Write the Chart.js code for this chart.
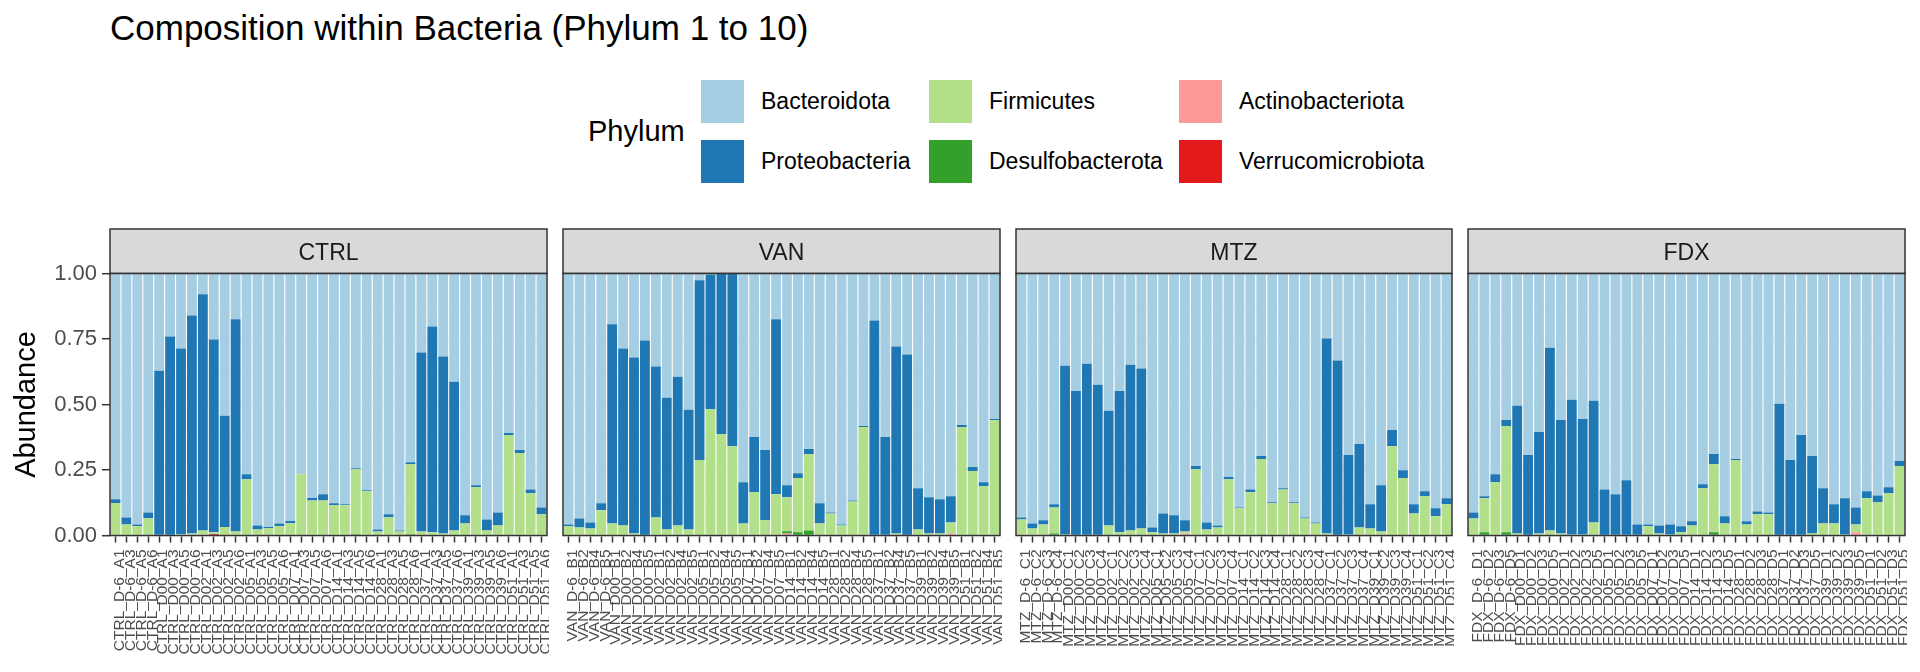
<!DOCTYPE html>
<html><head><meta charset="utf-8">
<script src="https://cdn.jsdelivr.net/npm/chart.js@4.4.1/dist/chart.umd.min.js"></script>
<style>
html,body{margin:0;padding:0;background:#fff;}
#wrap{position:relative;width:1920px;height:672px;overflow:hidden;font-family:"Liberation Sans",Arial,sans-serif;}
canvas{position:absolute;}
.t{position:absolute;white-space:nowrap;line-height:1;}
.key{position:absolute;width:43px;height:43px;}
</style></head><body>
<div id="wrap">
<div class="t" style="left:110px;top:10.4px;font-size:35px;color:#000">Composition within Bacteria (Phylum 1 to 10)</div>
<div class="t" style="left:588px;top:117px;font-size:29px;color:#000">Phylum</div>
<div id="legend"></div>
<canvas id="c0"></canvas><canvas id="c1"></canvas><canvas id="c2"></canvas><canvas id="c3"></canvas>
</div>
<script>
// ---- data ----
const groups = ["CTRL", "VAN", "MTZ", "FDX"];
const days = ["D-6", "D00", "D02", "D05", "D07", "D14", "D28", "D37", "D39", "D51"];
const miceCTRL = ["A1", "A3", "A5", "A6"];
const miceVAN = ["B1", "B2", "B4", "B5"];
const miceMTZ = ["C1", "C2", "C3", "C4"];
const miceFDX = ["D1", "D2", "D3", "D5"];
const phyla = ["Bacteroidota", "Proteobacteria", "Firmicutes", "Desulfobacterota", "Actinobacteriota", "Verrucomicrobiota"];
const phylaColors = ["#A6CEE3", "#1F78B4", "#B2DF8A", "#33A02C", "#FB9A99", "#E31A1C"];
const yTicks = [0, 0.25, 0.5, 0.75, 1];

const ctrlBacteroidota = [.862,.931,.958,.912,.371,.240,.286,.160,.079,.252, .543,.175,.766,.962,.968,.954,.945,.766,.857,.843, .877,.881,.743,.827,.977,.919,.981,.720,.302,.202, .317,.413,.923,.808,.939,.912,.609,.674,.824,.893];
const ctrlProteobacteria = [.014,.027,.007,.022,.629,.760,.709,.832,.902,.736, .425,.810,.019,.015,.004,.010,.008,0,.009,.023, .008,.004,.004,.004,.008,.011,.004,.008,.683,.786, .675,.568,.031,.008,.042,.050,.007,.011,.015,.026];
const ctrlFirmicutes = [.124,.042,.035,.066,0,0,.005,.008,.015,.006, .032,.015,.215,.023,.028,.036,.047,.234,.134,.134, .115,.115,.248,.169,.015,.070,.015,.267,.015,.012, .008,.019,.046,.184,.019,.038,.384,.315,.161,.081];
const ctrlDesulfobacterota = [0,0,0,0,0,0,0,0,0,0, 0,0,0,0,0,0,0,0,0,0, 0,0,.005,0,0,0,0,.005,0,0, 0,0,0,0,0,0,0,0,0,0];
const ctrlActinobacteriota = [0,0,0,0,0,0,0,0,.004,0, 0,0,0,0,0,0,0,0,0,0, 0,0,0,0,0,0,0,0,0,0, 0,0,0,0,0,0,0,0,0,0];
const ctrlVerrucomicrobiota = [0,0,0,0,0,0,0,0,0,.006, 0,0,0,0,0,0,0,0,0,0, 0,0,0,0,0,0,0,0,0,0, 0,0,0,0,0,0,0,0,0,0];

const vanBacteroidota = [.958,.935,.950,.877,.194,.286,.321,.256,.355,.474, .394,.520,.026,.005,0,0,.797,.624,.674,.175, .808,.762,.670,.877,.912,.958,.866,.582,.179,.624, .279,.309,.820,.854,.862,.850,.578,.739,.797,.555];
const vanProteobacteria = [.007,.034,.023,.027,.760,.676,.671,.744,.576,.503, .568,.457,.686,.512,.613,.659,.157,.211,.268,.668, .046,.019,.019,.077,.004,.004,.004,.004,.821,.376, .713,.691,.157,.138,.130,.100,.008,.015,.015,.004];
const vanFirmicutes = [.035,.031,.027,.096,.046,.038,.008,0,.069,.023, .038,.023,.288,.483,.387,.341,.046,.165,.058,.157, .130,.207,.292,.046,.084,.038,.130,.414,0,0, .008,0,.023,.008,.008,.042,.414,.242,.188,.441];
const vanDesulfobacterota = [0,0,0,0,0,0,0,0,0,0, 0,0,0,0,0,0,0,0,0,0, .008,.012,.019,0,0,0,0,0,0,0, 0,0,0,0,0,0,0,.004,0,0];
const vanActinobacteriota = [0,0,0,0,0,0,0,0,0,0, 0,0,0,0,0,0,0,0,0,0, .008,0,0,0,0,0,0,0,0,0, 0,0,0,0,0,.008,0,0,0,0];
const vanVerrucomicrobiota = [0,0,0,0,0,0,0,0,0,0, 0,0,0,0,0,0,0,0,0,0, 0,0,0,0,0,0,0,0,0,0, 0,0,0,0,0,0,0,0,0,0];

const mtzBacteroidota = [.931,.954,.942,.881,.352,.448,.344,.425,.524,.448, .348,.363,.969,.916,.923,.942,.735,.950,.962,.777, .893,.824,.697,.873,.820,.873,.931,.950,.248,.332, .693,.651,.881,.808,.597,.751,.881,.831,.896,.858];
const mtzProteobacteria = [.008,.019,.016,.012,.644,.552,.656,.575,.438,.540, .633,.610,.019,.076,.069,.043,.012,.027,.007,.008, .003,.011,.011,.004,.004,.004,.004,.004,.744,.668, .303,.318,.092,.177,.062,.030,.035,.019,.031,.023];
const mtzFirmicutes = [.061,.027,.042,.099,.004,0,0,0,.038,.012, .019,.027,.012,.008,.008,.007,.253,.023,.031,.215, .104,.165,.288,.123,.176,.119,.065,.046,.008,0, .004,.031,.027,.011,.341,.219,.084,.150,.073,.119];
const mtzDesulfobacterota = [0,0,0,.008,0,0,0,0,0,0, 0,0,0,0,0,0,0,0,0,0, 0,0,.004,0,0,.004,0,0,0,0, 0,0,0,0,0,0,0,0,0,0];
const mtzActinobacteriota = [0,0,0,0,0,0,0,0,0,0, 0,0,0,0,0,.008,0,0,0,0, 0,0,0,0,0,0,0,0,0,0, 0,0,0,.004,0,0,0,0,0,0];
const mtzVerrucomicrobiota = [0,0,0,0,0,0,0,0,0,0, 0,0,0,0,0,0,0,0,0,0, 0,0,0,0,0,0,0,0,0,0, 0,0,0,0,0,0,0,0,0,0];

const fdxBacteroidota = [.912,.850,.766,.559,.505,.693,.605,.283,.559,.482, .555,.486,.824,.843,.789,.958,.958,.962,.958,.965, .946,.804,.689,.927,.708,.946,.908,.912,.497,.712, .616,.697,.820,.881,.858,.893,.831,.847,.816,.716];
const fdxProteobacteria = [.023,.008,.031,.023,.487,.307,.387,.698,.433,.514, .441,.464,.176,.157,.211,.042,.007,.030,.038,.023, .016,.016,.039,.027,.004,.012,.011,.007,.503,.288, .384,.295,.134,.073,.138,.065,.027,.026,.023,.019];
const fdxFirmicutes = [.065,.130,.203,.406,.008,0,.008,.019,.008,.004, .004,.050,0,0,0,0,.031,.008,.004,.012, .038,.180,.260,.046,.284,.042,.081,.081,0,0, 0,.008,.046,.046,.004,.030,.142,.127,.161,.265];
const fdxDesulfobacterota = [0,.012,0,.012,0,0,0,0,0,0, 0,0,0,0,0,0,.004,0,0,0, 0,0,.012,0,.004,0,0,0,0,0, 0,0,0,0,0,0,0,0,0,0];
const fdxActinobacteriota = [0,0,0,0,0,0,0,0,0,0, 0,0,0,0,0,0,0,0,0,0, 0,0,0,0,0,0,0,0,0,0, 0,0,0,0,0,.012,0,0,0,0];
const fdxVerrucomicrobiota = [0,0,0,0,0,0,0,0,0,0, 0,0,0,0,0,0,0,0,0,0, 0,0,0,0,0,0,0,0,0,0, 0,0,0,0,0,0,0,0,0,0];

// ---- build ----
Chart.defaults.font.family = '"Liberation Sans", Arial, sans-serif';
const FONT = '"Liberation Sans", Arial, sans-serif';

const legendCols = [701, 929, 1179], legendRows = [80, 140];
const leg = document.getElementById('legend');
phyla.forEach((p, i) => {
  const cx = legendCols[Math.floor(i / 2)], ry = legendRows[i % 2];
  const k = document.createElement('div'); k.className = 'key';
  k.style.left = cx + 'px'; k.style.top = ry + 'px'; k.style.background = phylaColors[i];
  leg.appendChild(k);
  const t = document.createElement('div'); t.className = 't'; t.textContent = p;
  t.style.left = (cx + 60) + 'px'; t.style.top = (ry + 10) + 'px'; t.style.fontSize = '23px'; t.style.color = '#000';
  leg.appendChild(t);
});

const panelPlugin = {
  id: 'panel',
  beforeDraw(chart, args, opts) {
    const { ctx, chartArea: { left, right, top } } = chart;
    ctx.save();
    ctx.fillStyle = '#D9D9D9'; ctx.fillRect(left, 1, right - left, top - 1);
    ctx.strokeStyle = '#333333'; ctx.lineWidth = 1.5; ctx.strokeRect(left, 1, right - left, top - 1);
    ctx.fillStyle = '#1A1A1A'; ctx.font = '23px ' + FONT; ctx.textAlign = 'center'; ctx.textBaseline = 'alphabetic';
    ctx.fillText(opts.text, (left + right) / 2, top - 14);
    ctx.restore();
  },
  afterDatasetsDraw(chart) {
    const { ctx, chartArea: { left, right, top, bottom } } = chart;
    ctx.save(); ctx.strokeStyle = '#333333'; ctx.lineWidth = 1.5;
    ctx.strokeRect(left, top, right - left, bottom - top); ctx.restore();
  }
};

const isMajor = v => Math.abs(v * 4 - Math.round(v * 4)) < 1e-9;

function makeChart(idx, left, width, padL, group, mice, series) {
  const cv = document.getElementById('c' + idx);
  cv.width = width; cv.height = 444;
  cv.style.left = left + 'px'; cv.style.top = '228px';
  cv.style.width = width + 'px'; cv.style.height = '444px';
  const labels = [];
  days.forEach(d => mice.forEach(m => labels.push(group + '_' + d + '_' + m)));
  const order = [5, 4, 3, 2, 1, 0];
  const datasets = order.map(i => ({
    label: phyla[i], data: series[i], backgroundColor: phylaColors[i],
    borderWidth: 0, barPercentage: 0.9, categoryPercentage: 1.0
  }));
  const first = idx === 0;
  return new Chart(cv, {
    type: 'bar',
    data: { labels, datasets },
    plugins: [panelPlugin],
    options: {
      responsive: false, animation: false, devicePixelRatio: 1,
      layout: { padding: { top: 45.5, right: 2, left: padL, bottom: 0 } },
      plugins: { legend: { display: false }, tooltip: { enabled: false }, panel: { text: group } },
      scales: {
        x: {
          stacked: true,
          grid: { display: true, drawOnChartArea: false, drawTicks: true, tickLength: 7, tickColor: '#333333', tickWidth: 1.5, offset: false },
          border: { display: false },
          ticks: { autoSkip: false, minRotation: 90, maxRotation: 90, padding: 7, labelOffset: 4,
                   color: '#4D4D4D', font: { size: 15.5, family: FONT } },
          afterFit: s => { s.height = 136.5; s.paddingLeft = 0; s.paddingRight = 0; }
        },
        y: {
          stacked: true, min: 0, max: 1,
          border: { display: false },
          grid: {
            color: '#EBEBEB', lineWidth: c => isMajor(c.tick.value) ? 1.4 : 0.7,
            drawTicks: first, tickLength: 8, tickWidth: 1.5,
            tickColor: c => isMajor(c.tick.value) ? '#333333' : 'rgba(0,0,0,0)'
          },
          ticks: { display: first, stepSize: 0.125, padding: 5, color: '#4D4D4D', font: { size: 22, family: FONT },
                   callback: v => isMajor(v) && yTicks.includes(Math.round(v * 4) / 4) ? v.toFixed(2) : '' },
          title: { display: first, text: 'Abundance', color: '#000', font: { size: 29, family: FONT }, padding: { top: 9.6, bottom: 0 } },
          afterFit: s => { s.width = first ? 110 : 0; s.paddingTop = 0; s.paddingBottom = 0; }
        }
      }
    }
  });
}

const ctrlSeries = [ctrlBacteroidota, ctrlProteobacteria, ctrlFirmicutes, ctrlDesulfobacterota, ctrlActinobacteriota, ctrlVerrucomicrobiota];
const vanSeries = [vanBacteroidota, vanProteobacteria, vanFirmicutes, vanDesulfobacterota, vanActinobacteriota, vanVerrucomicrobiota];
const mtzSeries = [mtzBacteroidota, mtzProteobacteria, mtzFirmicutes, mtzDesulfobacterota, mtzActinobacteriota, mtzVerrucomicrobiota];
const fdxSeries = [fdxBacteroidota, fdxProteobacteria, fdxFirmicutes, fdxDesulfobacterota, fdxActinobacteriota, fdxVerrucomicrobiota];

makeChart(0, 0, 549, 0, groups[0], miceCTRL, ctrlSeries);
makeChart(1, 561, 441, 2, groups[1], miceVAN, vanSeries);
makeChart(2, 1014, 440, 2, groups[2], miceMTZ, mtzSeries);
makeChart(3, 1466, 441, 2, groups[3], miceFDX, fdxSeries);
</script>
</body></html>
